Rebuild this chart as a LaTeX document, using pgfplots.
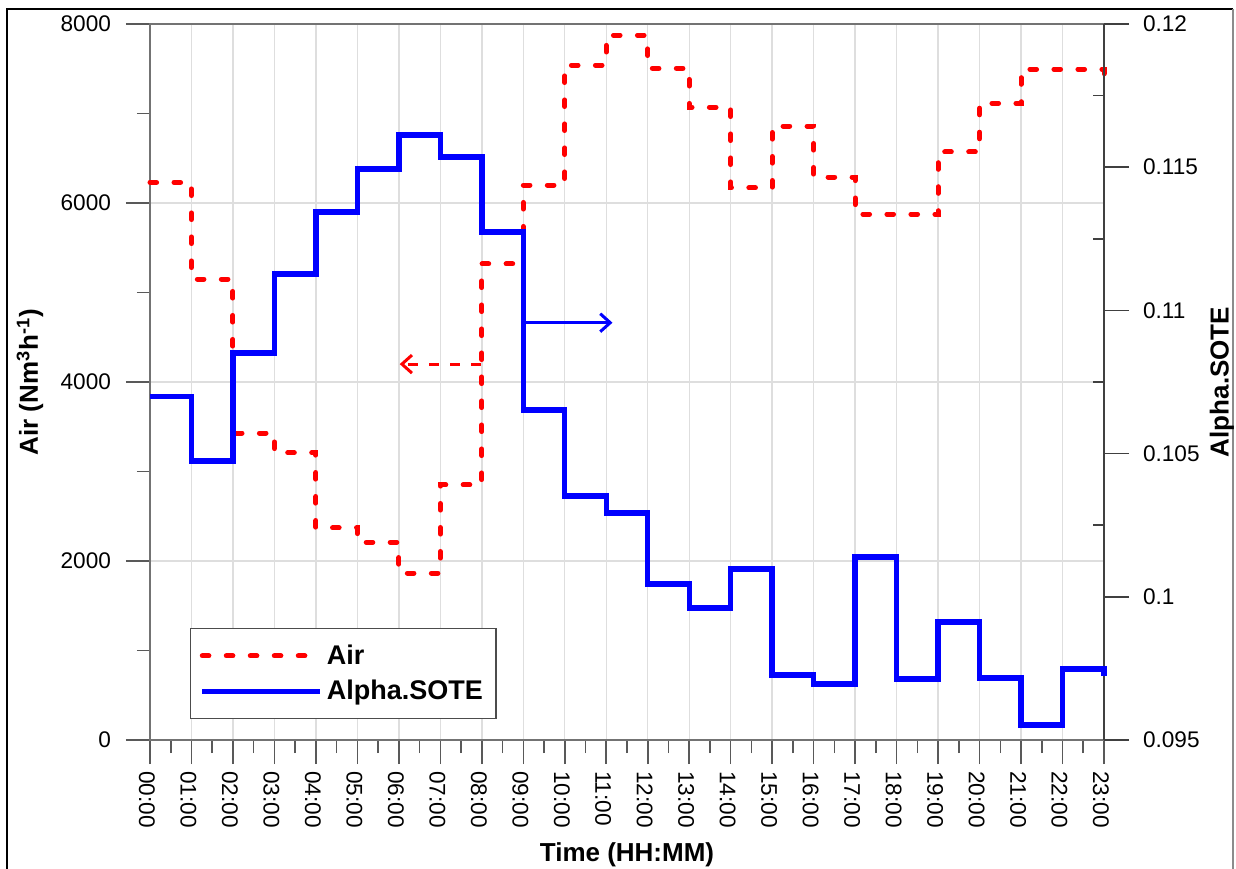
\documentclass[border=0pt]{standalone}
\usepackage{fontspec}
\setmainfont{Liberation Sans}
\usepackage{pgfplots}
\usepackage{pgfplotstable}
\pgfplotsset{compat=1.18}
\usetikzlibrary{arrows.meta}

\pgfplotstableread{
x air sote
0 6230 0.10700
1 5150 0.10474
2 3430 0.10851
3 3210 0.11127
4 2370 0.11344
5 2210 0.11494
6 1865 0.11612
7 2850 0.11536
8 5320 0.11274
9 6200 0.10652
10 7540 0.10352
11 7875 0.10293
12 7505 0.10045
13 7070 0.09961
14 6170 0.10097
15 6860 0.09727
16 6290 0.09696
17 5875 0.10139
18 5875 0.09713
19 6570 0.09912
20 7115 0.09716
21 7495 0.09552
22 7495 0.09748
23 7350 0.09723
}\datatable

\definecolor{airred}{RGB}{255,0,0}
\definecolor{soteblue}{RGB}{0,0,255}

\begin{document}
\begin{tikzpicture}
\useasboundingbox (-75bp,-64.5bp) rectangle (543bp,370bp);
\draw[black, line width=1.1bp] (-71.5bp,-64.5bp) -- (-71.5bp,365.5bp) -- (541.5bp,365.5bp);
\draw[black!45, line width=0.8bp] (541.5bp,365.5bp) -- (541.5bp,-64.5bp);
\begin{axis}[
  at={(0,0)}, anchor=south west,
  scale only axis, width=477bp, height=358bp,
  xmin=0, xmax=23, ymin=0, ymax=8000,
  clip=false,
  axis line style={black!55, line width=0.9bp},
  xtick pos=bottom, ytick pos=left,
  tick align=outside,
  major tick length=12bp, minor tick length=6.5bp,
  tick style={black!65, line width=0.8bp},
  xtick={0,...,23},
  xticklabels={00:00,01:00,02:00,03:00,04:00,05:00,06:00,07:00,08:00,09:00,10:00,11:00,12:00,13:00,14:00,15:00,16:00,17:00,18:00,19:00,20:00,21:00,22:00,23:00},
  minor x tick num=1,
  ytick={0,2000,4000,6000,8000},
  yticklabels={0,2000,4000,6000,8000},
  minor y tick num=1,
  grid=major,
  major grid style={black!13, line width=0.7bp},
  ticklabel style={font=\fontsize{11.3bp}{13bp}\selectfont},
  x tick label style={rotate=-90, anchor=west, yshift=-1.5bp},
  y tick label style={xshift=-4bp},
  every axis y label/.style={at={(axis description cs:-0.1258,0.5)}, rotate=90, anchor=center},
  every axis x label/.style={at={(axis description cs:0.5,-0.161)}, anchor=center},
  label style={font=\bfseries\fontsize{13bp}{15bp}\selectfont},
  ylabel={Air (Nm\textsuperscript{3}h\textsuperscript{-1})},
  xlabel={Time (HH:MM)},
]
\addplot[const plot, airred, line width=2.5bp, line cap=round, dash pattern=on 3.3bp off 8.7bp] table[x=x, y=air] {\datatable};
\draw[airred, line width=1.5bp, dash pattern=on 5bp off 5.5bp, -{Straight Barb[length=5bp, width=9bp]}] (axis cs:7.97,4200) -- (axis cs:6.02,4200);
\end{axis}
\begin{axis}[
  at={(0,0)}, anchor=south west,
  scale only axis, width=477bp, height=358bp,
  xmin=0, xmax=23, ymin=0.095, ymax=0.12,
  clip=false,
  axis x line=none, axis y line*=right,
  axis line style={-, black!75, line width=0.9bp},
  tick align=outside,
  major tick length=12.5bp,
  tick style={black!75, line width=0.8bp},
  ytick={0.095,0.1,0.105,0.11,0.115,0.12},
  yticklabels={0.095,0.1,0.105,0.11,0.115,0.12},
  extra y ticks={0.0975,0.1025,0.1075,0.1125,0.1175},
  extra y tick labels={},
  extra y tick style={tick align=inside, major tick length=5.5bp},
  ticklabel style={font=\fontsize{11.3bp}{13bp}\selectfont},
  y tick label style={xshift=3.5bp},
  every axis y label/.style={at={(axis description cs:1.1237,0.5)}, rotate=90, anchor=center},
  label style={font=\bfseries\fontsize{13bp}{15bp}\selectfont},
  ylabel={Alpha.SOTE},
  legend style={at={(axis description cs:0.0419,0.1564)}, anchor=north west,
    draw=black!70, line width=0.6bp, fill=white,
    font=\bfseries\fontsize{13.5bp}{15bp}\selectfont,
    inner xsep=4.5bp, inner ysep=6bp, row sep=2.5bp,
    cells={anchor=west}},
  legend image code/.code={\draw[#1] (0bp,0bp) -- (59bp,0bp);},
  legend entries={Air, Alpha.SOTE},
]
\addlegendimage{airred, line width=2.5bp, line cap=round, dash pattern=on 3.3bp off 8.7bp}
\addplot[const plot, soteblue, line width=2.7bp] table[x=x, y=sote] {\datatable};
\draw[soteblue, line width=1.5bp, -{Straight Barb[length=5bp, width=9bp]}] (axis cs:9.0,0.10957) -- (axis cs:11.15,0.10957);
\end{axis}
\end{tikzpicture}
\end{document}
